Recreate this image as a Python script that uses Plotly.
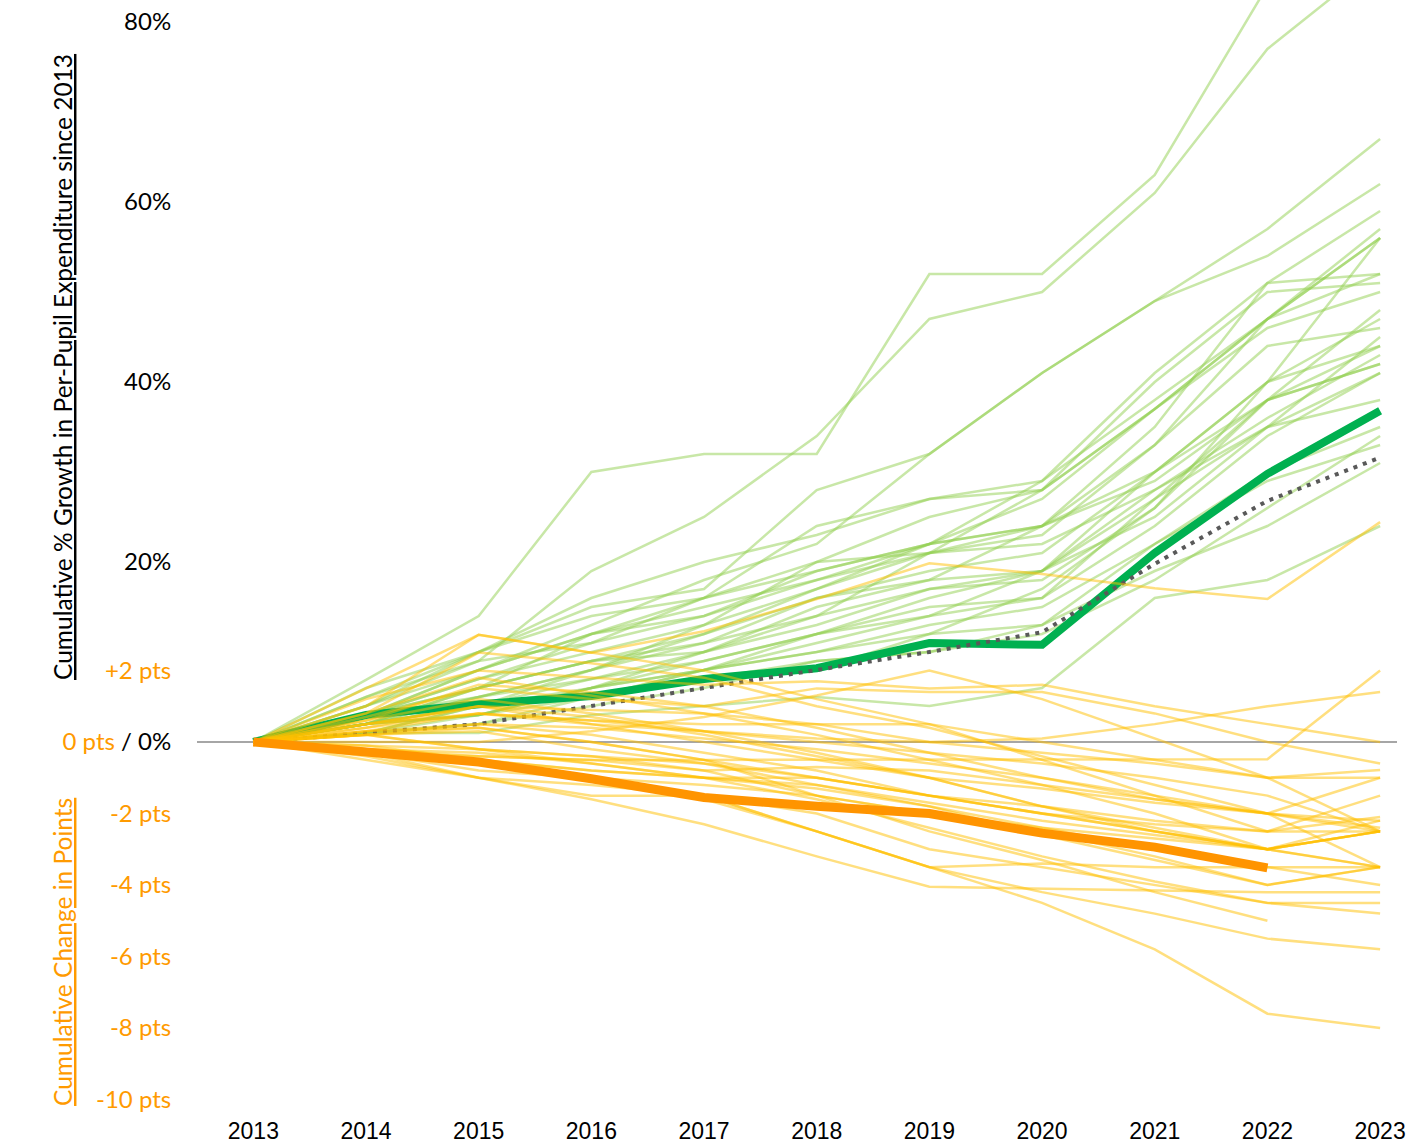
import plotly.graph_objects as go

years = list(range(2013, 2024))

# Cumulative % growth in per-pupil expenditure (state lines)
growth_lines = [
    [0, 6.9, 14, 30, 32, 32, 52, 52, 63, 84, 92],
    [0, 4, 9, 19, 25, 34, 47, 50, 61, 77, 87],
    [0, 3, 8, 13, 18, 22, 32, 41, 49, 57, 67],
    [0, 4, 10, 15, 17, 28, 32, 41, 49, 54, 62],
    [0, 3, 7, 11, 16, 24, 27, 29, 41, 51, 59],
    [0, 2, 6, 12, 16, 20, 25, 28, 37, 47, 57],
    [0, 5, 9, 11, 14, 19, 22, 29, 38, 47, 56],
    [0, 2, 5, 8, 11, 14, 21, 24, 33, 47, 56],
    [0, 3, 7, 10, 13, 17, 22, 24, 35, 51, 52],
    [0, 2, 6, 9, 12, 17, 21, 28, 40, 50, 51],
    [0, 4, 8, 12, 14, 18, 22, 27, 37, 46, 50],
    [0, 3, 6, 9, 10, 15, 18, 24, 29, 38, 48],
    [0, 2, 4, 7, 10, 13, 17, 19, 30, 40, 47],
    [0, 1, 3, 6, 9, 12, 16, 19, 27, 35, 45],
    [0, 3, 5, 8, 12, 16, 19, 21, 30, 40, 44],
    [0, 2, 4, 6, 10, 14, 17, 18, 26, 38, 42],
    [0, 2, 3, 6, 8, 12, 15, 16, 27, 38, 42],
    [0, 1, 4, 5, 8, 11, 14, 16, 24, 34, 41],
    [0, 2, 5, 7, 9, 12, 14, 19, 28, 35, 38],
    [0, 1, 2, 5, 8, 10, 13, 15, 22, 30, 35],
    [0, 2, 3, 6, 8, 10, 12, 13, 22, 29, 33],
    [0, 1, 2, 4, 6, 9, 10, 13, 19, 24, 31],
    [0, 1, 1, 3, 4, 5, 4, 6, 16, 18, 24],
    [0, 5, 10, 14, 16, 19, 22, 24, 30, 38, 44],
    [0, 6, 10, 16, 20, 23, 27, 28, 37, 47, 52],
    [0, 3, 8, 12, 15, 18, 21, 23, 33, 44, 46],
    [0, 1, 4, 8, 13, 20, 21, 22, 28, 36, 43],
    [0, 2, 4, 5, 7, 9, 10, 12, 18, 26, 34],
    [0, 2, 3, 5, 7, 8, 12, 17, 26, 40, 56],
    [0, 3, 6, 9, 11, 16, 18, 19, 25, 35, 41],
]

# Cumulative change in points (state lines)
points_lines = [
    [0, 1.0, 3.0, 2.5, 3.1, 4.0, 5.0, 4.7, 4.3, 4.0, 6.15],
    [0, 0.0, 0.0, 0.3, 0.7, 1.3, 2.0, 1.2, 0.1, -1.0, -2.5],
    [0, 0.6, 1.2, 0.8, 0.3, 0.1, 0.0, 0.1, 0.5, 1.0, 1.4],
    [0, 1.2, 2.0, 1.8, 1.6, 1.7, 1.5, 1.6, 1.0, 0.5, 0.0],
    [0, 0.7, 1.5, 1.2, 1.0, 1.5, 1.4, 1.4, 0.8, 0.0, -0.6],
    [0, -0.3, -0.4, -0.5, -0.5, -0.5, -0.5, -0.5, -0.5, -0.48, 2.0],
    [0, 0.3, 0.8, 0.6, 0.5, 0.5, 0.5, 0.0, -0.5, -1.0, -0.78],
    [0, 0.5, 1.0, 0.5, 0.0, -0.5, -1.0, -1.3, -1.7, -2.0, -1.0],
    [0, 0.2, 0.5, 0.2, -0.3, -0.8, -1.5, -1.8, -2.2, -2.5, -1.5],
    [0, -0.2, -0.5, -0.8, -1.0, -1.0, -1.5, -2.0, -2.3, -2.5, -2.1],
    [0, 0.3, 0.4, 0.0, -0.5, -1.0, -1.5, -2.0, -2.5, -3.0, -2.2],
    [0, -0.2, -0.3, -0.6, -1.0, -1.2, -1.7, -2.2, -2.6, -3.0, -2.5],
    [0, 0.4, 0.8, 0.6, 0.3, -0.3, -1.0, -1.8, -2.4, -3.0, -2.5],
    [0, 0.2, -0.2, -0.4, -0.8, -1.5, -2.0, -2.4, -2.7, -3.0, -2.5],
    [0, 0.8, 2.5, 2.2, 1.8, 1.0, 0.4, -0.4, -1.2, -2.0, -2.4],
    [0, 1.5, 3.0, 2.5, 2.0, 1.2, 0.5, -0.5, -1.5, -2.5, -2.5],
    [0, 0.5, 1.0, 0.7, 0.2, -0.4, -1.0, -1.8, -2.5, -3.0, -3.5],
    [0, -0.3, -0.8, -1.0, -1.2, -1.5, -2.0, -2.5, -3.2, -4.0, -3.5],
    [0, 0.2, 0.3, -0.2, -0.6, -1.2, -1.8, -2.6, -3.3, -4.0, -3.5],
    [0, -0.3, -1.0, -1.6, -2.3, -3.2, -4.05, -4.1, -4.15, -4.2, -4.2],
    [0, -0.2, -0.5, -1.0, -1.6, -2.5, -3.5, -3.4, -3.5, -3.5, -3.5],
    [0, -0.5, -1.0, -1.5, -1.5, -2.0, -3.0, -3.5, -4.0, -4.5, -4.8],
    [0, -0.4, -1.0, -1.2, -1.5, -2.5, -3.5, -4.2, -4.8, -5.5, -5.8],
    [0, -0.3, -0.6, -1.0, -1.5, -2.5, -3.5, -4.5, -5.8, -7.6, -8.0],
    [0, 0.2, 0.4, 0.0, -0.5, -1.5, -2.5, -3.3, -4.2, -5.0, None],
    [0, 0.6, 1.6, 1.4, 1.0, 0.4, -0.3, -1.0, -1.6, -2.0, -2.2],
    [0, -0.2, -0.4, -0.5, -0.8, -0.7, -0.8, -1.2, -1.6, -2.0, -3.5],
    [0, 0.4, 1.0, 0.9, 0.8, 0.5, 0.0, -0.3, -0.6, -1.0, -1.0],
    [0, -0.1, -0.2, -0.4, -0.6, -1.0, -1.5, -2.0, -2.5, -3.0, -2.5],
    [0, 0.3, 0.5, 0.4, 0.1, -0.2, -0.6, -1.0, -1.5, -2.0, -2.5],
    [0, -0.1, -0.5, -0.8, -1.0, -1.3, -1.8, -2.4, -3.0, -3.5, -4.0],
    [0, 0.5, 0.8, 0.5, 0.3, 0.0, -0.3, -0.6, -1.0, -1.5, -2.5],
    [0, 0.8, 1.8, 1.3, 0.8, 0.2, -0.5, -1.2, -2.0, -3.0, -3.5],
    [0, 0.2, -0.2, -0.6, -1.0, -1.6, -2.4, -3.2, -3.9, -4.5, -4.5],
]

national_growth = [0, 3.0, 4.2, 5.1, 7.0, 8.2, 11.0, 10.8, 21.0, 29.8, 36.8]
inflation = [0, 1.0, 2.0, 4.0, 6.0, 8.0, 10.0, 12.2, 19.8, 26.8, 31.6]
national_points = [0, -0.28, -0.56, -1.03, -1.55, -1.8, -2.0, -2.55, -2.94, -3.52, None]

pct_ticks = [0, 20, 40, 60, 80]
pct_ticktext = ["<span style='color:#FF9A00'>0 pts</span> / 0%", "20%", "40%", "60%", "80%"]
pts_ticks = [2, -2, -4, -6, -8, -10]
pts_ticktext = ["+2 pts", "-2 pts", "-4 pts", "-6 pts", "-8 pts", "-10 pts"]

ORANGE = "#FF9A00"
W, H = 1412, 1146
L, R, T, B = 197, 15, 0, 41
plot_h = H - T - B
zero_px = 742
pct_px = 9.0
pts_px = 35.75
pct_range = [-(plot_h - zero_px) / pct_px, zero_px / pct_px]
pts_range = [-(plot_h - zero_px) / pts_px, zero_px / pts_px]

fig = go.Figure()

for ln in points_lines:
    fig.add_trace(go.Scatter(x=years, y=ln, mode="lines", yaxis="y2",
                             line=dict(color="rgba(255,192,0,0.5)", width=2.5),
                             hoverinfo="skip", showlegend=False))
for ln in growth_lines:
    fig.add_trace(go.Scatter(x=years, y=ln, mode="lines", yaxis="y",
                             line=dict(color="rgba(146,208,80,0.5)", width=2.5),
                             hoverinfo="skip", showlegend=False))

fig.add_trace(go.Scatter(x=years, y=national_points, mode="lines", yaxis="y2",
                         line=dict(color="#FF9400", width=9), showlegend=False))
fig.add_trace(go.Scatter(x=years, y=national_growth, mode="lines", yaxis="y",
                         line=dict(color="#00B050", width=8), showlegend=False))
fig.add_trace(go.Scatter(x=years, y=inflation, mode="lines", yaxis="y",
                         line=dict(color="#595959", width=4, dash="4px,6px"),
                         showlegend=False))

fig.update_layout(
    width=W, height=H,
    margin=dict(l=L, r=R, t=T, b=B, autoexpand=False),
    paper_bgcolor="white", plot_bgcolor="white",
    font=dict(family="Lato, Carlito, sans-serif", size=24, color="black"),
    xaxis=dict(range=[2012.5, 2023.15], tickmode="array", tickvals=years,
               ticktext=[str(y) for y in years], showgrid=False, zeroline=False,
               showline=False, ticks="outside", ticklen=5, tickcolor="rgba(0,0,0,0)",
               tickfont=dict(family="Liberation Sans, Arial, sans-serif", size=23, color="black")),
    yaxis=dict(range=pct_range, tickmode="array", tickvals=pct_ticks, ticktext=pct_ticktext,
               showgrid=False, zeroline=True, zerolinecolor="#A6A6A6", zerolinewidth=2,
               showline=False, ticks="outside", ticklen=20, tickcolor="rgba(0,0,0,0)",
               tickfont=dict(family="Lato, Carlito, sans-serif", size=24, color="black")),
    yaxis2=dict(range=pts_range, overlaying="y", side="left", anchor="x",
                tickmode="array", tickvals=pts_ticks, ticktext=pts_ticktext,
                showgrid=False, zeroline=False, showline=False,
                ticks="outside", ticklen=20, tickcolor="rgba(0,0,0,0)",
                tickfont=dict(family="Lato, Carlito, sans-serif", size=24, color=ORANGE)),
)

def px_to_paper_x(px):
    return (px - L) / (W - L - R)

def px_to_paper_y(py):
    return (H - B - py) / plot_h

fig.add_annotation(text="<u>Cumulative % Growth in Per-Pupil Expenditure since 2013</u>",
                   xref="paper", yref="paper", x=px_to_paper_x(62), y=px_to_paper_y(367),
                   xanchor="center", yanchor="middle", textangle=-90, showarrow=False,
                   font=dict(family="Lato, Carlito, sans-serif", size=24.5, color="black"))
fig.add_annotation(text="<u>Cumulative Change in Points</u>",
                   xref="paper", yref="paper", x=px_to_paper_x(62), y=px_to_paper_y(952),
                   xanchor="center", yanchor="middle", textangle=-90, showarrow=False,
                   font=dict(family="Lato, Carlito, sans-serif", size=24.5, color=ORANGE))

fig.write_html("out.html", config={"displayModeBar": False},
               post_script="document.body.style.margin='0px';")
